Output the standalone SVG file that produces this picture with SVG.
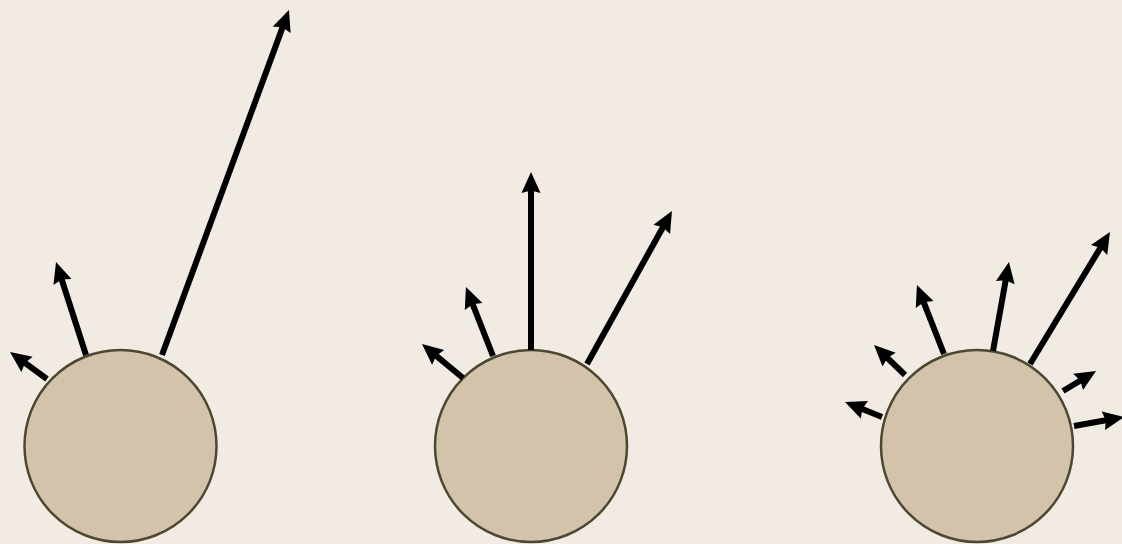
<svg xmlns="http://www.w3.org/2000/svg" width="1122" height="544" viewBox="0 0 1122 544">
<style>
.node{fill:#d3c3aa;stroke:#4a4830;stroke-width:2.5}
.arr{stroke:#000;stroke-width:6;fill:none;marker-end:url(#ah)}
</style>
<defs>
<marker id="ah" markerUnits="userSpaceOnUse" viewBox="0 0 21 19" markerWidth="21" markerHeight="19" refX="11" refY="9.5" orient="auto" overflow="visible">
<path d="M0,0 L21,9.5 L0,19 L2.5,9.5 z" fill="#000"/>
</marker>
</defs>
<rect width="1122" height="544" fill="#f1ebe4"/>
<g id="node1"><circle class="node" cx="120.5" cy="446" r="96"/></g>
<g id="node2"><circle class="node" cx="531" cy="446" r="96"/></g>
<g id="node3"><circle class="node" cx="977" cy="446" r="96"/></g>
<g id="connectors">
<line class="arr" x1="47" y1="379" x2="18.1" y2="357.9"/>
<line class="arr" x1="86" y1="355" x2="59.1" y2="271.5"/>
<line class="arr" x1="162" y1="355" x2="285.5" y2="19.4"/>
<line class="arr" x1="463" y1="378" x2="429.7" y2="350.4"/>
<line class="arr" x1="493" y1="356" x2="469.6" y2="296.3"/>
<line class="arr" x1="531" y1="350" x2="531" y2="182"/>
<line class="arr" x1="587" y1="364" x2="667.1" y2="219.7"/>
<line class="arr" x1="882" y1="417" x2="854.3" y2="405.8"/>
<line class="arr" x1="905" y1="375" x2="881.2" y2="352"/>
<line class="arr" x1="944" y1="354" x2="920.6" y2="294.3"/>
<line class="arr" x1="993" y1="351" x2="1007.2" y2="271.8"/>
<line class="arr" x1="1030" y1="364" x2="1104.8" y2="240.6"/>
<line class="arr" x1="1063" y1="391" x2="1087.5" y2="376.2"/>
<line class="arr" x1="1074" y1="426" x2="1114.2" y2="418.8"/>
</g>
</svg>
